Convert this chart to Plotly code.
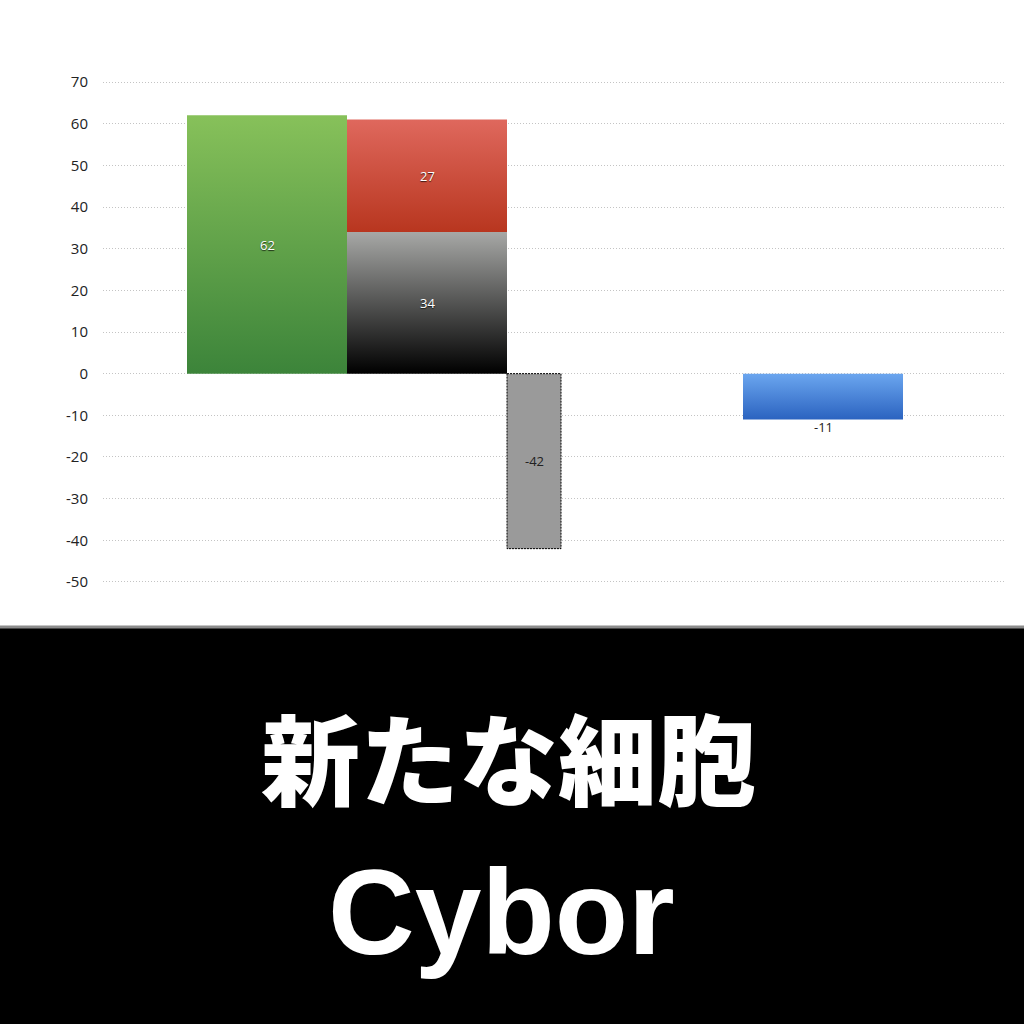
import plotly.graph_objects as go

# -------------------------
# Data
# -------------------------
green_value = [62]
stack_lower_value = [34]   # black gradient part
stack_upper_value = [27]   # red part sitting on top of the black one
dashed_value = [-42]
blue_value = [-11]

y_ticks = [-50, -40, -30, -20, -10, 0, 10, 20, 30, 40, 50, 60, 70]
y_ticktext = [str(v) for v in y_ticks]

title_jp = "新たな細胞"
title_en = "Cybor"

# -------------------------
# Layout helpers (screen px -> figure coords)
# -------------------------
W, H = 1024, 1024
PLOT_X0, PLOT_X1 = 103, 1005     # screen px of plot area
PLOT_Y0, PLOT_Y1 = 82, 582       # screen px for y=70 and y=-50
Y_RANGE = [-50.25, 70.25]
unit = (PLOT_Y1 - PLOT_Y0) / 120.0
pad = 0.25 * unit

L = PLOT_X0
R = W - PLOT_X1
T = PLOT_Y0 - pad
B = H - (PLOT_Y1 + pad)
X_RANGE = [-1.025, 4.6125]       # slot units: 1 = width of a wide bar


def px(p):
    return (p - PLOT_X0) / (PLOT_X1 - PLOT_X0)


def py(p):
    return (PLOT_Y1 + pad - p) / (PLOT_Y1 - PLOT_Y0 + 2 * pad)


def box(x0, x1, y0, y1):
    return [x0, x1, x1, x0, x0], [y0, y0, y1, y1, y0]


def grad_bar(fig, x0, x1, base, value, c_bottom, c_top):
    top = base + value
    xs, ys = box(x0, x1, base, top)
    lo, hi = min(base, top), max(base, top)
    fig.add_trace(go.Scatter(
        x=xs, y=ys, mode="lines", fill="toself",
        line=dict(width=0),
        fillgradient=dict(type="vertical", start=lo, stop=hi,
                          colorscale=[[0, c_bottom], [1, c_top]]),
        hoverinfo="skip", showlegend=False,
    ))


fig = go.Figure()

# green bar
g = green_value[0]
grad_bar(fig, -0.5, 0.5, 0, g, "#3c843a", "#87c15a")

# stacked bar: black gradient + red on top
lo = stack_lower_value[0]
up = stack_upper_value[0]
grad_bar(fig, 0.5, 1.5, 0, lo, "#000000", "#a7a8a6")
grad_bar(fig, 0.5, 1.5, lo, up, "#b8361f", "#df685d")

# dashed grey bar
d = dashed_value[0]
dx0, dx1 = 1.5, 1.8375
xs, ys = box(dx0, dx1, 0, d)
fig.add_trace(go.Scatter(
    x=xs, y=ys, mode="lines", fill="toself", fillcolor="#9a9a9a",
    line=dict(color="#000000", width=1, dash="2px,1px"),
    hoverinfo="skip", showlegend=False,
))

# blue bar
b = blue_value[0]
bx = 3.475
grad_bar(fig, bx - 0.5, bx + 0.5, 0, b, "#2b63c0", "#6ba6ef")

# value labels
lab_font = "Open Sans, Lato, sans-serif"
white = dict(family=lab_font, size=13, color="white",
             shadow="0px 1px 1px rgba(0,0,0,0.7)")
dark = dict(family=lab_font, size=13, color="#222222")

annotations = [
    dict(x=0, y=g / 2, text=str(g), font=white),
    dict(x=1, y=lo + up / 2, text=str(up), font=white),
    dict(x=1, y=lo / 2, text=str(lo), font=white),
    dict(x=(dx0 + dx1) / 2, y=d / 2, text=str(d), font=dark),
    dict(x=bx, y=b, text=str(b), font=dark, yanchor="top", yshift=3),
]
for a in annotations:
    a.setdefault("yanchor", "middle")
    a.update(xref="x", yref="y", showarrow=False, xanchor="center")

# -------------------------
# Black title panel
# -------------------------
shapes = [
    dict(type="rect", xref="paper", yref="paper",
         x0=px(-20), x1=px(W + 20), y0=py(628), y1=py(H + 20),
         fillcolor="#000000", line=dict(width=0), layer="above"),
    dict(type="line", xref="paper", yref="paper",
         x0=px(-20), x1=px(W + 20), y0=py(627), y1=py(627),
         line=dict(color="#8c8c8c", width=3), layer="above"),
]

annotations += [
    dict(text=title_jp, xref="paper", yref="paper", x=px(508), y=py(755),
         xanchor="center", yanchor="middle", showarrow=False,
         font=dict(family="Noto Sans CJK JP", size=99, color="white", weight=900)),
    dict(text=title_en, xref="paper", yref="paper", x=px(501), y=py(912),
         xanchor="center", yanchor="middle", showarrow=False,
         font=dict(family="Liberation Sans, Arial, sans-serif", size=120,
                   color="white", weight="bold")),
]

fig.update_layout(
    width=W, height=H,
    margin=dict(l=L, r=R, t=T, b=B),
    paper_bgcolor="white", plot_bgcolor="white",
    showlegend=False,
    xaxis=dict(range=X_RANGE, visible=False, fixedrange=True),
    yaxis=dict(range=Y_RANGE, tickvals=y_ticks, ticktext=y_ticktext, ticks="",
               showline=False, zeroline=False,
               showgrid=True, gridcolor="#c4c4c4", griddash="1px,2px", gridwidth=1,
               tickfont=dict(family="Open Sans, Lato, sans-serif", size=15, color="#222222"),
               ticklabelstandoff=14, fixedrange=True),
    shapes=shapes,
    annotations=annotations,
)

# drop the default page margin so the figure fills the window
fig.write_html("out.html", config={"displayModeBar": False},
               post_script="document.body.style.margin = '0';")
